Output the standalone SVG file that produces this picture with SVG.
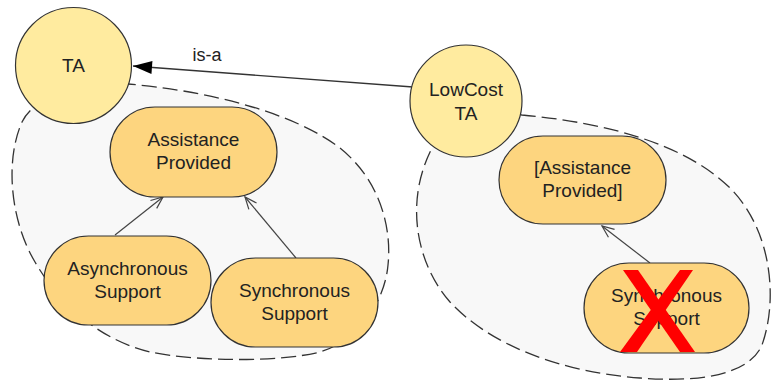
<svg xmlns="http://www.w3.org/2000/svg" width="773" height="382" viewBox="0 0 773 382">
<style>
text{font-family:"Liberation Sans",Arial,sans-serif;font-size:19px;fill:#222;text-anchor:middle}
.region{fill:#f8f8f8;stroke:#333;stroke-width:1.3;stroke-dasharray:15 6}
.circ{fill:#ffeb9f;stroke:#333;stroke-width:1.2}
.node{fill:#fdd57f;stroke:#333;stroke-width:1.2}
.edge{stroke:#444;stroke-width:1.2;fill:none}
.x{fill:#ff0000}
</style>
<defs>
<marker id="tri" markerUnits="userSpaceOnUse" markerWidth="22" markerHeight="14" viewBox="-20 -7 22 14" refX="0" refY="0" orient="auto">
<path d="M0,0 L-19,-6.5 L-19,6.5 Z" fill="#000"/>
</marker>
<marker id="open" markerUnits="userSpaceOnUse" markerWidth="16" markerHeight="14" viewBox="-14 -7 16 14" refX="0" refY="0" orient="auto">
<path d="M-12,-5 L0,0 L-12,5" fill="none" stroke="#444" stroke-width="1.2"/>
</marker>
</defs>
<g id="regions">
<path class="region" d="M100,82 L128,84 C200,90 290,110 340,148 C380,180 392,228 388,265 C385,300 360,340 320,352 C280,362 200,362 150,352 C100,340 60,305 35,262 C10,220 5,160 22,122 C28,110 40,100 60,95 Z"/>
<path class="region" d="M500,112 L522,115 C600,122 685,142 732,190 C772,232 778,300 762,345 C748,378 690,382 640,378 C560,372 490,345 450,302 C415,262 405,200 432,148 Z"/>
</g>
<g id="connectors">
<line x1="413" y1="87" x2="133" y2="66" stroke="#333" stroke-width="1.3" marker-end="url(#tri)"/>
<text x="207" y="61" style="font-size:18px">is-a</text>
<line class="edge" x1="115" y1="235" x2="163" y2="197" marker-end="url(#open)"/>
<line class="edge" x1="296" y1="258" x2="245" y2="197" marker-end="url(#open)"/>
<line class="edge" x1="650" y1="263" x2="602" y2="226" marker-end="url(#open)"/>
</g>
<g id="TA">
<circle class="circ" cx="73.5" cy="65.5" r="58"/>
<text x="73.5" y="72">TA</text>
</g>
<g id="LowCostTA">
<circle class="circ" cx="466" cy="101" r="56"/>
<text x="466" y="96">LowCost</text>
<text x="466" y="120">TA</text>
</g>
<g id="AssistanceProvided">
<rect class="node" x="110" y="107" width="167" height="90" rx="45"/>
<text x="193.5" y="146">Assistance</text>
<text x="193.5" y="169">Provided</text>
</g>
<g id="AsynchronousSupport">
<rect class="node" x="44" y="236" width="167" height="89" rx="44.5"/>
<text x="127.5" y="275">Asynchronous</text>
<text x="127.5" y="298">Support</text>
</g>
<g id="SynchronousSupport">
<rect class="node" x="211" y="258" width="167" height="89" rx="44.5"/>
<text x="294.5" y="297">Synchronous</text>
<text x="294.5" y="320">Support</text>
</g>
<g id="AssistanceProvided2">
<rect class="node" x="499" y="136" width="167" height="88" rx="44"/>
<text x="582.5" y="174">[Assistance</text>
<text x="582.5" y="197">Provided]</text>
</g>
<g id="SynchronousSupport2">
<rect class="node" x="584" y="263" width="165" height="90" rx="45"/>
<text x="666.5" y="302">Synchronous</text>
<text x="666.5" y="325">Support</text>
<polygon class="x" points="623,270 638,270 695,352 680,352"/>
<polygon class="x" points="680,270 693,270 637,352 620,352"/>
</g>
</svg>
